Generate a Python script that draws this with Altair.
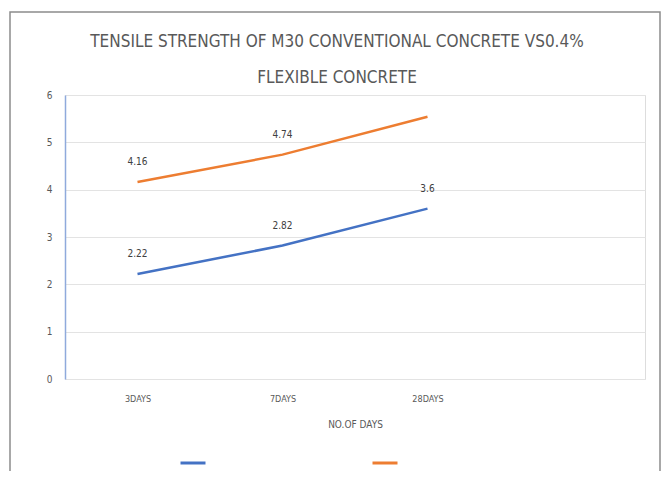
import altair as alt
import pandas as pd

days = ["3DAYS", "7DAYS", "28DAYS"]
conventional = [2.22, 2.82, 3.6]
flexible = [4.16, 4.74, 5.54]
series_names = ["M30 CONVENTIONAL CONCRETE", "0.4% FLEXIBLE CONCRETE"]
label_conventional = ["2.22", "2.82", "3.6"]
label_flexible = ["4.16", "4.74", ""]

rows = []
for i, d in enumerate(days):
    rows.append({"day": d, "value": conventional[i], "series": series_names[0], "label": label_conventional[i]})
    rows.append({"day": d, "value": flexible[i], "series": series_names[1], "label": label_flexible[i]})
df = pd.DataFrame(rows)

FONT = "DejaVu Sans Condensed, sans-serif"
x_domain = days + [" "]

x = alt.X("day:N", sort=x_domain, scale=alt.Scale(domain=x_domain, paddingInner=0, paddingOuter=0),
          axis=alt.Axis(title="NO.OF DAYS", labelAngle=0, domain=False, ticks=False, grid=False,
                        labelPadding=15, labelFontSize=9, labelColor="#595959", labelFont=FONT,
                        titleFont=FONT, titleFontSize=10, titleFontWeight="normal", titleColor="#595959",
                        titlePadding=16))
y = alt.Y("value:Q", scale=alt.Scale(domain=[0, 6]),
          axis=alt.Axis(title=None, values=[0, 1, 2, 3, 4, 5, 6], domain=True, domainColor="#8FAADC",
                        domainWidth=1.5, ticks=False, gridColor="#E3E3E3", gridWidth=1,
                        labelPadding=13, labelFontSize=10, labelColor="#595959", labelFont=FONT))
color = alt.Color("series:N", sort=series_names,
                  scale=alt.Scale(domain=series_names, range=["#4472C4", "#ED7D31"]),
                  legend=alt.Legend(title=None, orient="none", legendX=114, legendY=354, direction="horizontal",
                                    symbolType="stroke", symbolSize=625, symbolStrokeWidth=3,
                                    labelExpr="''", labelOffset=0, columnPadding=154))

base = alt.Chart(df)
lines = base.mark_line(strokeWidth=2.5, interpolate="linear").encode(x=x, y=y, color=color, detail="series:N")
texts = base.mark_text(dy=-20, fontSize=10, color="#404040", font=FONT).encode(
    x=alt.X("day:N", sort=x_domain), y="value:Q", text="label:N")
frame = alt.Chart(pd.DataFrame({"a": [0]})).mark_rect(fill=None, stroke="#8C8C8C", strokeWidth=1.5, clip=False).encode(
    x=alt.value(-55), x2=alt.value(595), y=alt.value(-83), y2=alt.value(420))

chart = alt.layer(frame, lines, texts).properties(
    width=580, height=284,
    autosize=alt.AutoSizeParams(type="none"),
    padding={"left": 57, "top": 87, "right": 17, "bottom": 92},
    title=alt.Title(["TENSILE STRENGTH OF M30 CONVENTIONAL CONCRETE VS0.4%", "FLEXIBLE CONCRETE"],
                    font=FONT, fontSize=17, fontWeight="normal", color="#595959",
                    lineHeight=36, offset=-76, dx=-18, anchor="middle", frame="group"),
).configure_view(stroke=None).configure(background="white")

chart.save("out.html", embed_options={"renderer": "svg", "actions": False})
